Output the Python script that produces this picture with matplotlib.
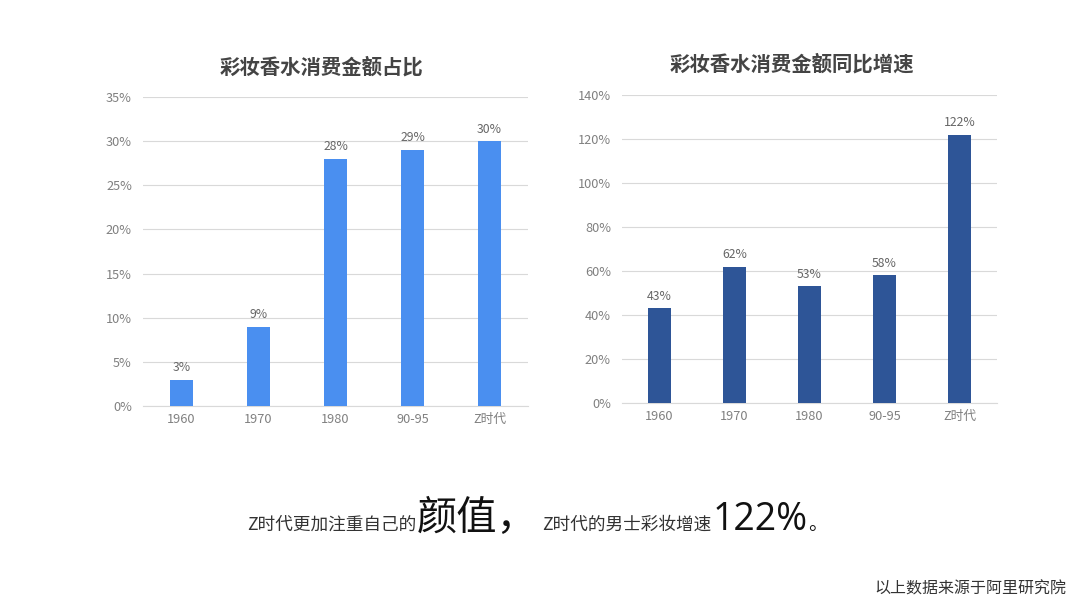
import matplotlib
matplotlib.use("Agg")
import matplotlib.pyplot as plt

plt.rcParams['font.family'] = ['Noto Sans CJK SC', 'DejaVu Sans']

categories = ['1960', '1970', '1980', '90-95', 'Z时代']
share_values = [3, 9, 28, 29, 30]
growth_values = [43, 62, 53, 58, 122]
share_ticks = [0, 5, 10, 15, 20, 25, 30, 35]
growth_ticks = [0, 20, 40, 60, 80, 100, 120, 140]

left_title = '彩妆香水消费金额占比'
right_title = '彩妆香水消费金额同比增速'

W, H = 1080, 608
fig = plt.figure(figsize=(W / 100, H / 100), dpi=100)
fig.patch.set_facecolor('white')

def px_rect(x0, y_top, x1, y_bot):
    return [x0 / W, 1 - y_bot / H, (x1 - x0) / W, (y_bot - y_top) / H]

def draw(ax, vals, ticks, color, title, title_xy):
    x = range(len(categories))
    ax.bar(x, vals, width=0.31, color=color, zorder=3)
    ax.set_xlim(-0.5, len(categories) - 0.5)
    ax.set_ylim(ticks[0], ticks[-1])
    ax.set_yticks(ticks)
    ax.set_yticklabels([f'{t}%' for t in ticks])
    ax.set_xticks(list(x))
    ax.set_xticklabels(categories)
    ax.tick_params(length=0, colors='#808080', labelsize=9.2)
    ax.tick_params(axis='y', pad=8)
    ax.tick_params(axis='x', pad=5)
    ax.grid(axis='y', color='#d9d9d9', linewidth=0.8, zorder=0)
    for s in ['top', 'right', 'left']:
        ax.spines[s].set_visible(False)
    ax.spines['bottom'].set_color('#d9d9d9')
    ax.spines['bottom'].set_linewidth(0.8)
    for i, v in enumerate(vals):
        ax.annotate(f'{v}%', (i, v), xytext=(0, 4), textcoords='offset points',
                    ha='center', va='bottom', fontsize=8.8, color='#666666')
    fig.text(title_xy[0] / W, 1 - title_xy[1] / H, title, ha='center', va='center',
             fontsize=14.7, fontweight='bold', color='#444444')

ax1 = fig.add_axes(px_rect(143, 97, 528, 406))
draw(ax1, share_values, share_ticks, '#4a8ff0', left_title, (322, 67))

ax2 = fig.add_axes(px_rect(622, 95, 997, 403))
draw(ax2, growth_values, growth_ticks, '#2e5597', right_title, (792, 64))

yb = 1 - 530 / H
fig.text(247 / W, yb, 'Z时代更加注重自己的', fontsize=12.7, color='#333333', va='baseline')
fig.text(417 / W, yb, '颜值，', fontsize=29, color='#111111', va='baseline')
fig.text(542 / W, yb, 'Z时代的男士彩妆增速', fontsize=12.7, color='#333333', va='baseline')
fig.text(713 / W, yb, '122%', fontsize=27, color='#111111', va='baseline',
         family=['Open Sans', 'Noto Sans CJK SC'])
fig.text(808 / W, yb, '。', fontsize=14, color='#111111', va='baseline')

fig.text(1066 / W, 1 - 589 / H, '以上数据来源于阿里研究院', fontsize=11.5, color='#333333',
         ha='right', va='center')

fig.savefig('out.png', dpi=100, facecolor='white')
